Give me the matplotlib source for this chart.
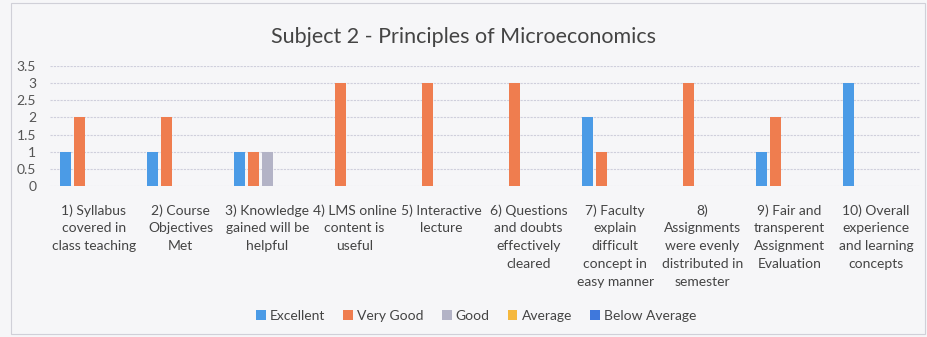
import numpy as np
import matplotlib
matplotlib.use('Agg')
import matplotlib.pyplot as plt
from matplotlib.patches import Rectangle

# chart data
categories = [
    "1) Syllabus\ncovered in\nclass teaching",
    "2) Course\nObjectives\nMet",
    "3) Knowledge\ngained will be\nhelpful",
    "4) LMS online\ncontent is\nuseful",
    "5) Interactive\nlecture",
    "6) Questions\nand doubts\neffectively\ncleared",
    "7) Faculty\nexplain\ndifficult\nconcept in\neasy manner",
    "8)\nAssignments\nwere evenly\ndistributed in\nsemester",
    "9) Fair and\ntransperent\nAssignment\nEvaluation",
    "10) Overall\nexperience\nand learning\nconcepts",
]
series_names = ['Excellent', 'Very Good', 'Good', 'Average', 'Below Average']
excellent = [1, 1, 1, 0, 0, 0, 2, 0, 1, 3]
very_good = [2, 2, 1, 3, 3, 3, 1, 3, 2, 0]
good = [0, 0, 1, 0, 0, 0, 0, 0, 0, 0]
average = [0, 0, 0, 0, 0, 0, 0, 0, 0, 0]
below_average = [0, 0, 0, 0, 0, 0, 0, 0, 0, 0]
yticks = [0, 0.5, 1, 1.5, 2, 2.5, 3, 3.5]

colors = ['#4b9be6', '#ef7d4f', '#b3b3c6', '#f5b83d', '#3f78dc']
all_series = [excellent, very_good, good, average, below_average]

plt.rcParams['font.family'] = ['Lato', 'DejaVu Sans']

fig = plt.figure(figsize=(9.28, 3.37), dpi=100, facecolor='#f6f6f8')
ax = fig.add_axes([0.054, 0.448, 0.937, 0.356])
ax.set_facecolor('#f6f6f8')

x = np.arange(len(categories))
slot = 0.16
width = 0.125
for i, (vals, name) in enumerate(zip(all_series, series_names)):
    ax.bar(x + (i - 2) * slot, vals, width, color=colors[i], label=name, zorder=3)

ax.set_xlim(-0.5, len(categories) - 0.5)
ax.set_ylim(0, 3.5)
ax.set_yticks(yticks)
ax.set_yticklabels(['0', '0.5', '1', '1.5', '2', '2.5', '3', '3.5'], fontsize=10, color='#555555')
ax.set_xticks(x)
ax.set_xticklabels(categories, fontsize=10, color='#444444', linespacing=1.58, va='top')
ax.tick_params(axis='both', length=0)
ax.tick_params(axis='y', pad=10)
ax.tick_params(axis='x', pad=13)
ax.grid(axis='y', color='#cfcfdc', linewidth=0.8, linestyle=(0, (2, 1)), zorder=0)
for s in ax.spines.values():
    s.set_visible(False)

fig.text(0.5, 0.89, 'Subject 2 - Principles of Microeconomics', ha='center',
         va='center', fontsize=15.5, color='#444444')

ax.legend(loc='center', bbox_to_anchor=(0.49, -1.08), ncol=5, frameon=False,
          fontsize=10, handlelength=0.7, handleheight=0.7, handletextpad=0.3,
          columnspacing=1.3, labelcolor='#444444')

fig.patches.append(Rectangle((0.012, 0.01), 0.985, 0.98, transform=fig.transFigure,
                             fill=False, edgecolor='#d0d0d8', linewidth=0.8))

fig.savefig('out.png', dpi=100, facecolor=fig.get_facecolor())
